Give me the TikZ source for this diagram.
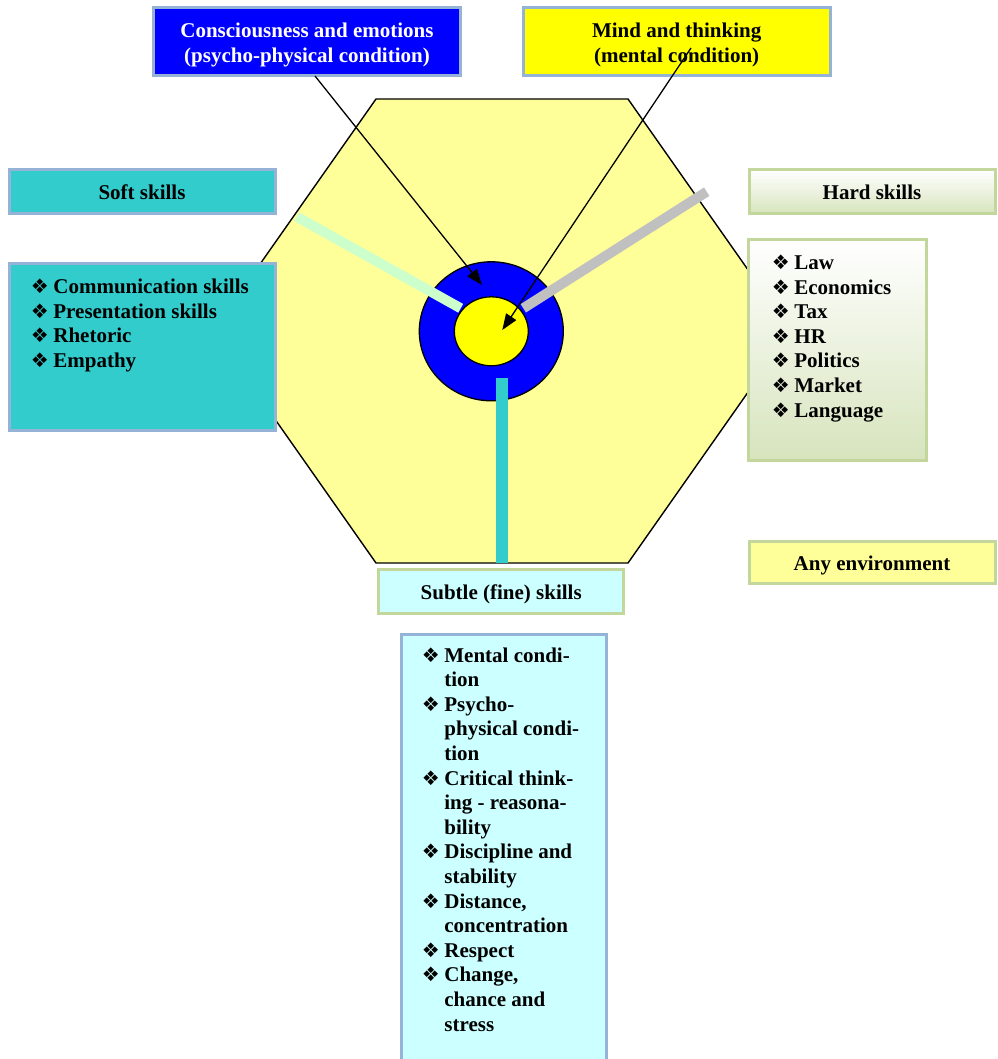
\documentclass[tikz,border=0pt]{standalone}
\usepackage{fontspec}
\setmainfont{Liberation Serif}
\newfontfamily\djv{DejaVu Sans}
\usetikzlibrary{arrows.meta,shapes.geometric}
\definecolor{hexfill}{HTML}{FFFF99}
\definecolor{bluebd}{HTML}{95B3D7}
\definecolor{greenbd}{HTML}{C3D69B}
\definecolor{tealfill}{HTML}{33CCCC}
\definecolor{palecyan}{HTML}{CCFFFF}
\definecolor{palegreen}{HTML}{CCFFCC}
\definecolor{greybar}{HTML}{C0C0C0}
\definecolor{hardgreen}{HTML}{D7E4BD}
\definecolor{pureblue}{HTML}{0000FF}
\definecolor{pureyellow}{HTML}{FFFF00}
\newcommand{\bul}{\makebox[22.5pt][l]{\djv\fontsize{20}{20}\selectfont ❖}}
\newcommand{\cont}{\hspace*{22.5pt}}
\begin{document}
\begin{tikzpicture}[x=1pt,y=-1pt,
  every node/.style={font=\fontsize{21}{24.6}\selectfont\bfseries, inner sep=0pt},
  box/.style={draw, line width=3pt, rectangle},
  bluebox/.style={box, draw=bluebd},
  greenbox/.style={box, draw=greenbd},
  thickbar/.style={line width=#1, line cap=butt},
  arr/.style={line width=1.3pt, -{Triangle[length=16pt,width=12pt]}},
  ring/.style={draw, ellipse, line width=1.3pt},
]
\useasboundingbox (0,0) rectangle (997,1059);
\clip (0,0) rectangle (997,1059);

% hexagon
\draw[fill=hexfill, line width=1.4pt, line join=miter]
  (376,99) -- (628,99) -- (791,331) -- (628,563) -- (376,563) -- (213,331) -- cycle;

% centre rings
\node[ring, fill=pureblue, minimum width=144pt, minimum height=139pt] (outer) at (491.3,331.3) {};

% bars
\coordinate (gb1) at (296.7,216.7);
\coordinate (gb2) at (460.7,308.3);
\coordinate (hb1) at (706.7,191.7);
\coordinate (hb2) at (523.3,308.3);
\coordinate (cb1) at (501.7,378.3);
\coordinate (cb2) at (501.7,563);
\draw[thickbar=10pt, draw=palegreen] (gb1) -- (gb2);
\draw[thickbar=10pt, draw=greybar] (hb1) -- (hb2);
\draw[thickbar=12pt, draw=tealfill] (cb1) -- (cb2);

\node[ring, fill=pureyellow, minimum width=74pt, minimum height=69pt] (inner) at (491.3,331.3) {};

% top boxes
\node[bluebox, fill=pureblue, minimum width=307pt, minimum height=68pt] (cons) at (307,41.5) {};
\node[text=white, align=center] (constxt) at ([yshift=-3.5pt]cons.center)
  {Consciousness and emotions\\(psycho-physical condition)};
\node[bluebox, fill=pureyellow, minimum width=307pt, minimum height=68pt] (mind) at (676.7,41.5) {};
\node[align=center] (mindtxt) at ([yshift=-3.5pt]mind.center)
  {Mind and thinking\\(mental condition)};

% soft skills
\node[bluebox, fill=tealfill, minimum width=266pt, minimum height=44pt] (soft) at (142,192) {Soft skills};
\node[bluebox, fill=tealfill, minimum width=266pt, minimum height=167pt] (softlist) at (142,346.7) {};
\node[anchor=base west] (softtxt) at (30.7,293.5) {\parbox[t]{240pt}{%
  \bul Communication skills\\
  \bul Presentation skills\\
  \bul Rhetoric\\
  \bul Empathy}};

% hard skills
\node[greenbox, top color=white, bottom color=hardgreen, minimum width=246pt, minimum height=44pt] (hard) at (872,192) {Hard skills};
\node[greenbox, top color=white, bottom color=hardgreen, minimum width=178pt, minimum height=220pt] (hardlist) at (837.8,350) {};
\node[anchor=base west] (hardtxt) at (771.7,269.5) {\parbox[t]{150pt}{%
  \bul Law\\
  \bul Economics\\
  \bul Tax\\
  \bul HR\\
  \bul Politics\\
  \bul Market\\
  \bul Language}};

% any environment
\node[greenbox, fill=hexfill, minimum width=246pt, minimum height=42pt] (env) at (872,562.5) {};
\node (envtxt) at ([yshift=-2.5pt]env.center) {Any environment};

% subtle skills
\node[greenbox, fill=palecyan, minimum width=245pt, minimum height=44pt] (subtle) at (501.2,591.7) {};
\node (subtletitle) at ([yshift=-2.5pt]subtle.center) {Subtle (fine) skills};
\node[box, draw=bluebd, fill=palecyan, anchor=north west, minimum width=205.4pt, minimum height=432pt] (subtlelist) at (399.8,633.2) {};
\node[anchor=base west] (subtletxt) at (421.7,662) {\parbox[t]{180pt}{%
  \bul Mental condi-\\
  \cont tion\\
  \bul Psycho-\\
  \cont physical condi-\\
  \cont tion\\
  \bul Critical think-\\
  \cont ing - reasona-\\
  \cont bility\\
  \bul Discipline and\\
  \cont stability\\
  \bul Distance,\\
  \cont concentration\\
  \bul Respect\\
  \bul Change,\\
  \cont chance and\\
  \cont stress}};

% arrows
\coordinate (a1s) at (315,76);
\coordinate (a1e) at (482,285);
\coordinate (a2s) at (691,48);
\coordinate (a2e) at (502.3,330);
\draw[arr] (a1s) -- (a1e);
\draw[arr] (a2s) -- (a2e);
\end{tikzpicture}
\end{document}
